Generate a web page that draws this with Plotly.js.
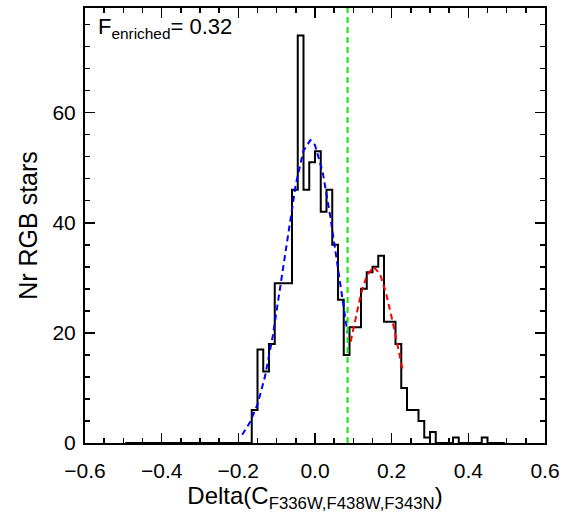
<!DOCTYPE html>
<html>
<head>
<meta charset="utf-8">
<script src="https://cdn.plot.ly/plotly-3.0.1.min.js"></script>
<style>
  html, body { margin: 0; padding: 0; background: #fff; }
  #chart { width: 563px; height: 515px; }
</style>
</head>
<body>
<div id="chart"></div>
<script>
// Histogram of the colour index Delta(C F336W,F438W,F343N) for RGB stars
const binStart = -0.165;   // left edge of the first non-empty bin
const binWidth = 0.015;
const counts = [6, 17, 13, 18, 29, 29, 29, 46, 74, 46, 51, 53, 42, 46, 36, 26, 16,
                21, 21, 28, 31, 32, 34, 22, 22, 18, 10, 6, 6, 4, 1, 2,
                0, 0, 0, 1, 0, 0, 0, 0, 1];
const histMin = -0.495, histMax = 0.495;   // full histogram span (empty bins drawn at zero)

// Gaussian fit to the primordial (first-generation) population
const fit1X = [-0.19, -0.17, -0.15, -0.13, -0.11, -0.09, -0.07, -0.05, -0.03, -0.012, 0.00, 0.02, 0.04, 0.06, 0.08, 0.085];
const fit1Y = [1.5, 3.7, 7.0, 12.2, 19.5, 28.5, 38.2, 47.0, 53.1, 55.0, 54.1, 49.2, 41.1, 31.4, 22.0, 19.9];

// Gaussian fit to the enriched (second-generation) population
const fit2X = [0.093, 0.105, 0.12, 0.135, 0.153, 0.17, 0.185, 0.20, 0.215, 0.23];
const fit2Y = [18.4, 22.4, 27.1, 30.4, 32.0, 30.6, 27.3, 22.8, 17.7, 12.9];

// Separation between the two populations
const splitX = 0.085;
const fEnriched = 0.32;

const xTicks = [-0.6, -0.4, -0.2, 0.0, 0.2, 0.4, 0.6];
const xTickText = ['\u22120.6', '\u22120.4', '\u22120.2', '0.0', '0.2', '0.4', '0.6'];
const yTicks = [0, 20, 40, 60];

// Step outline of the histogram, padded with empty bins
const nLeft = Math.round((binStart - histMin) / binWidth);
const nRight = Math.round((histMax - (binStart + counts.length * binWidth)) / binWidth);
const allCounts = Array(nLeft).fill(0).concat(counts, Array(Math.max(nRight, 0)).fill(0));
const x0 = binStart - nLeft * binWidth;
const stepX = [], stepY = [];
allCounts.forEach((c, i) => { stepX.push(x0 + i * binWidth); stepY.push(c); });
stepX.push(x0 + allCounts.length * binWidth);
stepY.push(allCounts[allCounts.length - 1]);

const FONT = 'Liberation Sans, Arial, Helvetica, sans-serif';

const traces = [
  { x: stepX, y: stepY, type: 'scatter', mode: 'lines',
    line: { shape: 'hv', color: '#000', width: 2 }, hoverinfo: 'skip' },
  { x: fit1X, y: fit1Y, type: 'scatter', mode: 'lines',
    line: { color: '#0000ff', width: 2, dash: '6px,4px' } },
  { x: fit2X, y: fit2Y, type: 'scatter', mode: 'lines',
    line: { color: '#ff0000', width: 2, dash: '6px,4px' } },
  { x: [splitX, splitX], y: [0, 79], type: 'scatter', mode: 'lines',
    line: { color: '#00ee00', width: 2, dash: '6px,4px' } }
];

const axisCommon = {
  showgrid: false, zeroline: false,
  showline: true, linecolor: '#000', linewidth: 2, mirror: 'allticks',
  ticks: 'inside', tickcolor: '#000', tickwidth: 1.5, ticklen: 10,
  tickfont: { family: FONT, size: 21, color: '#000' }
};

const layout = {
  width: 563, height: 515,
  margin: { l: 85, r: 18, t: 8, b: 72 },
  paper_bgcolor: '#fff', plot_bgcolor: '#fff',
  showlegend: false,
  xaxis: Object.assign({}, axisCommon, {
    range: [-0.6, 0.6],
    tickmode: 'array', tickvals: xTicks, ticktext: xTickText,
    minor: { dtick: 0.05, tick0: 0, ticks: 'inside', ticklen: 5, tickcolor: '#000', tickwidth: 1.5 },
    ticklabelstandoff: 8,
    title: { text: 'Delta(C<sub>F336W,F438W,F343N</sub>)', font: { family: FONT, size: 24, color: '#000' }, standoff: 4 }
  }),
  yaxis: Object.assign({}, axisCommon, {
    range: [0, 79],
    tickmode: 'array', tickvals: yTicks,
    minor: { dtick: 4, tick0: 0, ticks: 'inside', ticklen: 5, tickcolor: '#000', tickwidth: 1.5 },
    ticklabelstandoff: 3,
    title: { text: 'Nr RGB stars', font: { family: FONT, size: 25, color: '#000' }, standoff: 8 }
  }),
  annotations: [{
    xref: 'paper', yref: 'paper', x: 0.024, y: 0.99,
    xanchor: 'left', yanchor: 'top', showarrow: false,
    text: 'F<sub>enriched</sub>= ' + fEnriched.toFixed(2),
    font: { family: FONT, size: 22, color: '#000' }
  }]
};

Plotly.newPlot('chart', traces, layout, { staticPlot: true, displayModeBar: false });
</script>
</body>
</html>
